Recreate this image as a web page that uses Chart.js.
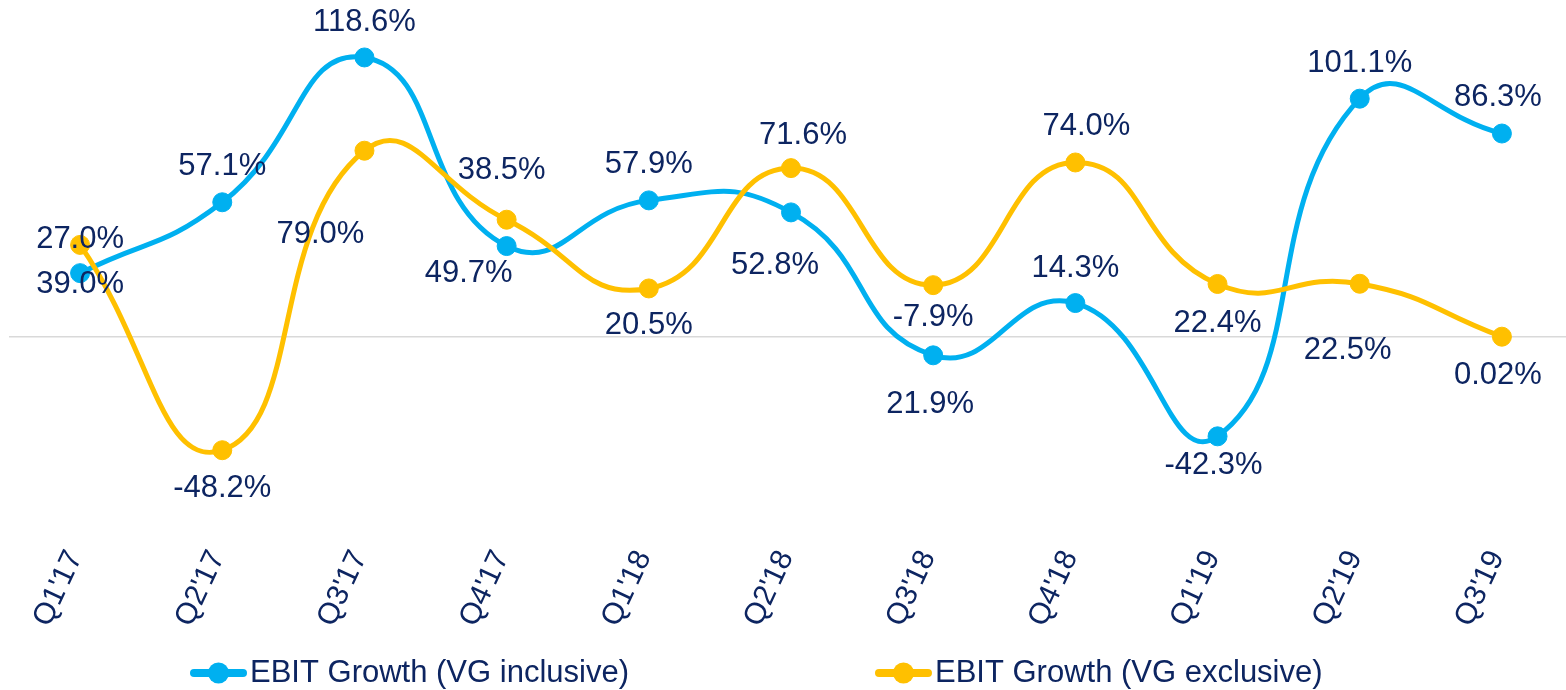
<!DOCTYPE html>
<html lang="en">
<head>
<meta charset="UTF-8">
<title>EBIT Growth</title>
<script src="https://cdn.jsdelivr.net/npm/chart.js"></script>
<style>
    html, body { margin: 0; padding: 0; background: #fff; overflow: hidden; }
    canvas { display: block; }
</style>
</head>
<body>
<!-- a bit wider than the window: the last category runs past the right edge -->
<canvas id="ebitChart" width="1573" height="690"></canvas>
<script>
    const quarters = ["Q1'17", "Q2'17", "Q3'17", "Q4'17", "Q1'18", "Q2'18", "Q3'18", "Q4'18", "Q1'19", "Q2'19", "Q3'19"];
    const vgInclusive = [27.0, 57.1, 118.6, 38.5, 57.9, 52.8, -7.9, 14.3, -42.3, 101.1, 86.3];
    const vgExclusive = [39.0, -48.2, 79.0, 49.7, 20.5, 71.6, 21.9, 74.0, 22.4, 22.5, 0.02];

    // where each value label sits relative to its marker, in px [dx, dy]
    const inclusiveLabelShift = [[0, -34], [0, -36], [0, -35], [-5, -76], [0, -36], [-16, 53], [0, -38], [0, -35], [-4, 29], [0, -35], [-4, -36]];
    const exclusiveLabelShift = [[0, 40], [0, 38], [-44, 84], [-38, 54], [0, 37], [12, -33], [-3, 119], [11, -36], [0, 39], [-12, 67], [-4, 39]];

    const BLUE = '#00b0f0';
    const GOLD = '#ffc000';
    const NAVY = '#0d2561';
    const FONT = "'Liberation Sans', Arial, sans-serif";

    function fmtPct(v) {
        if (v !== 0 && Math.abs(v) < 1) return v.toFixed(2) + '%';
        return v.toFixed(1) + '%';
    }

    // value labels next to each marker
    const valueLabels = {
        id: 'valueLabels',
        afterDatasetsDraw(chart) {
            const ctx = chart.ctx;
            ctx.save();
            ctx.font = '31px ' + FONT;
            ctx.fillStyle = NAVY;
            ctx.textAlign = 'center';
            ctx.textBaseline = 'middle';
            chart.data.datasets.forEach((ds, i) => {
                const meta = chart.getDatasetMeta(i);
                meta.data.forEach((pt, j) => {
                    const s = ds.labelShift[j];
                    ctx.fillText(fmtPct(ds.data[j]), pt.x + s[0], pt.y + s[1]);
                });
            });
            ctx.restore();
        }
    };

    // legend: line + marker, then the series name
    const lineLegend = {
        id: 'lineLegend',
        afterDraw(chart) {
            const ctx = chart.ctx;
            const y = 673;
            const gap = 246;
            let x = 190;
            ctx.save();
            ctx.font = '31px ' + FONT;
            ctx.textBaseline = 'middle';
            chart.data.datasets.forEach(ds => {
                ctx.strokeStyle = ds.borderColor;
                ctx.lineWidth = 8;
                ctx.lineCap = 'round';
                ctx.beginPath();
                ctx.moveTo(x + 4, y);
                ctx.lineTo(x + 53, y);
                ctx.stroke();
                ctx.fillStyle = ds.borderColor;
                ctx.beginPath();
                ctx.arc(x + 28.5, y, 10.5, 0, Math.PI * 2);
                ctx.fill();
                ctx.fillStyle = NAVY;
                ctx.textAlign = 'left';
                ctx.fillText(ds.label, x + 60, y);
                x += 60 + ctx.measureText(ds.label).width + gap;
            });
            ctx.restore();
        }
    };

    const ctx = document.getElementById('ebitChart').getContext('2d');
    new Chart(ctx, {
        type: 'line',
        data: {
            labels: quarters,
            datasets: [
                {
                    label: 'EBIT Growth (VG inclusive)',
                    data: vgInclusive,
                    labelShift: inclusiveLabelShift,
                    borderColor: BLUE,
                    backgroundColor: BLUE,
                    borderWidth: 5,
                    pointRadius: 9.5,
                    pointBorderWidth: 1,
                    tension: 0.5,
                    order: 1
                },
                {
                    label: 'EBIT Growth (VG exclusive)',
                    data: vgExclusive,
                    labelShift: exclusiveLabelShift,
                    borderColor: GOLD,
                    backgroundColor: GOLD,
                    borderWidth: 5,
                    pointRadius: 9.5,
                    pointBorderWidth: 1,
                    tension: 0.5,
                    order: 0
                }
            ]
        },
        options: {
            responsive: false,
            animation: false,
            devicePixelRatio: 1,
            layout: { autoPadding: false, padding: { left: 9, right: 0, top: 0, bottom: 30 } },
            plugins: {
                legend: { display: false },
                tooltip: { enabled: false }
            },
            scales: {
                x: {
                    offset: true,
                    grid: { display: false },
                    border: { display: false },
                    ticks: {
                        color: NAVY,
                        font: { family: FONT, size: 30 },
                        minRotation: 65,
                        maxRotation: 65,
                        padding: 28,
                        labelOffset: -5
                    }
                },
                y: {
                    min: -73.2,
                    max: 143,
                    border: { display: false },
                    grid: {
                        drawTicks: false,
                        lineWidth: 1.5,
                        color: c => (c.tick && c.tick.value === 0) ? '#d9d9d9' : 'rgba(0,0,0,0)'
                    },
                    ticks: { display: false, stepSize: 10 }
                }
            }
        },
        plugins: [valueLabels, lineLegend]
    });
</script>
</body>
</html>
